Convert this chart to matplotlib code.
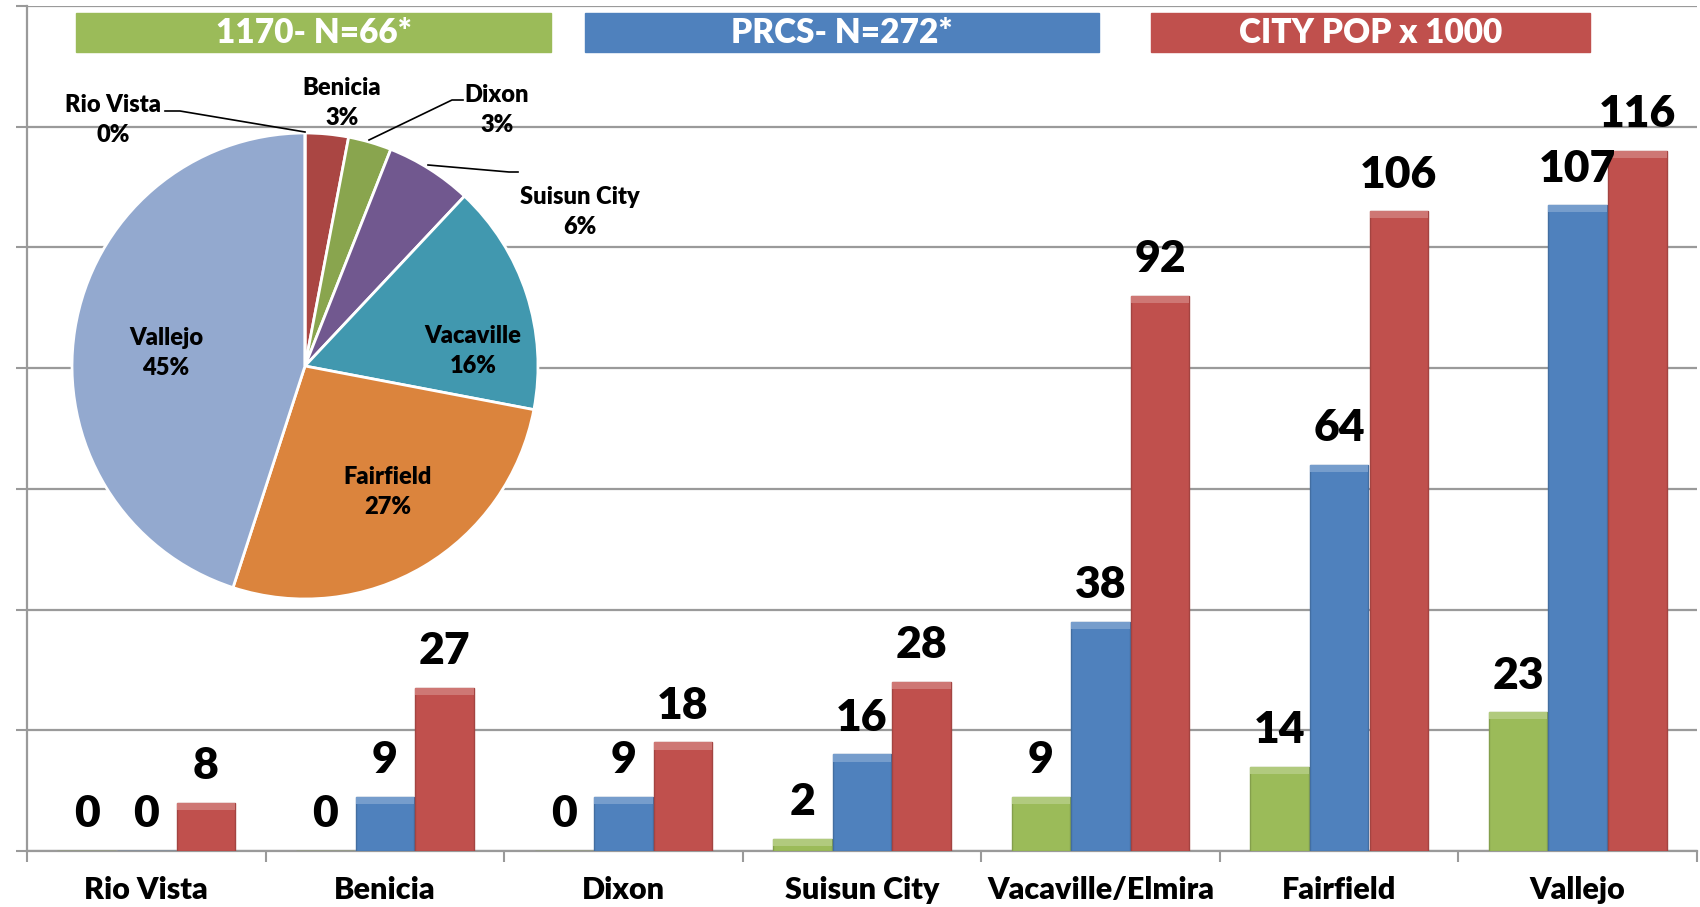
import matplotlib.pyplot as plt
import matplotlib.colors as mcolors
import numpy as np
from matplotlib.patches import Rectangle

# --- data ---
cities = ["Rio Vista", "Benicia", "Dixon", "Suisun City", "Vacaville/Elmira", "Fairfield", "Vallejo"]
n1170 = [0, 0, 0, 2, 9, 14, 23]
prcs = [0, 9, 9, 16, 38, 64, 107]
city_pop = [8, 27, 18, 28, 92, 106, 116]
series_names = ["1170- N=66*", "PRCS- N=272*", "CITY POP x 1000"]

pie_names = ["Benicia", "Dixon", "Suisun City", "Vacaville", "Fairfield", "Vallejo", "Rio Vista"]
pie_pct = [3, 3, 6, 16, 27, 45, 0]

# --- style ---
plt.rcParams["font.family"] = ["Lato", "DejaVu Sans"]
WT = "heavy"

bar_colors = ["#9BBB59", "#4F81BD", "#C0504D"]
pie_colors = ["#AA4643", "#89A54E", "#71588F", "#4198AF", "#DB843D", "#93A9CF", "#BBBBBB"]
grid_col = "#9A9A9A"


def lighten(c, amt):
    r, g, b = mcolors.to_rgb(c)
    return (r + (1 - r) * amt, g + (1 - g) * amt, b + (1 - b) * amt)


def darken(c, amt):
    r, g, b = mcolors.to_rgb(c)
    return (r * (1 - amt), g * (1 - amt), b * (1 - amt))


W, H = 1700, 907
fig = plt.figure(figsize=(W / 100, H / 100), dpi=100)
ax = fig.add_axes([27 / W, 56 / H, 1670 / W, 845 / H])

x = np.arange(len(cities))
bw = 0.25
bevel = 1.2  # data units, thin lighter cap on each bar
for i, (vals, col) in enumerate(zip([n1170, prcs, city_pop], bar_colors)):
    xs = x + (i - 1) * bw
    ax.bar(xs, vals, width=bw * 0.98, color=col, edgecolor=darken(col, 0.15), linewidth=1, zorder=3)
    v = np.array(vals, dtype=float)
    cap = np.minimum(v, bevel)
    ax.bar(xs, cap, bottom=v - cap, width=bw * 0.98, color=lighten(col, 0.22),
           edgecolor="none", zorder=4)
    for xi, vi in zip(xs, vals):
        ax.annotate(str(vi), (xi, vi), xytext=(0, 17), textcoords="offset points",
                    ha="center", va="baseline", fontsize=32, fontweight=WT, zorder=5)

ax.set_xlim(-0.5, len(cities) - 0.5)
ax.set_ylim(0, 140)
ax.set_yticks(np.arange(0, 141, 20))
ax.set_yticklabels([])
ax.grid(axis="y", color=grid_col, linewidth=1.6)
ax.set_axisbelow(True)
ax.set_xticks(x)
ax.set_xticklabels(cities, fontsize=22, fontweight=WT)
ax.set_xticks(np.arange(-0.5, len(cities)), minor=True)
ax.tick_params(axis="x", which="major", length=0, pad=18)
ax.tick_params(axis="x", which="minor", length=8, width=1.5, color=grid_col)
ax.tick_params(axis="y", length=8, width=1.5, color=grid_col)
for s in ["top", "right"]:
    ax.spines[s].set_visible(False)
for s in ["left", "bottom"]:
    ax.spines[s].set_color(grid_col)
    ax.spines[s].set_linewidth(1.6)

# --- legend boxes along the top ---
boxes = [(76, 551), (585, 1099), (1151, 1590)]
for (x0, x1), name, col in zip(boxes, series_names, bar_colors):
    fig.patches.append(Rectangle((x0 / W, 1 - 52 / H), (x1 - x0) / W, 39 / H,
                                 transform=fig.transFigure, color=col, zorder=6))
    fig.text((x0 + x1) / 2 / W, 1 - 33 / H, name, color="white", fontsize=24,
             fontweight=WT, ha="center", va="center", zorder=7)

# --- pie inset ---
cx, cy, r = 305, 366, 233
pax = fig.add_axes([(cx - r) / W, 1 - (cy + r) / H, 2 * r / W, 2 * r / H])
pax.pie(pie_pct, colors=pie_colors, startangle=90, counterclock=False,
        wedgeprops=dict(edgecolor="white", linewidth=2))
pax.set_xlim(-1, 1)
pax.set_ylim(-1, 1)
pax.set_aspect("equal")
pax.axis("off")


def to_pie(px, py):
    return (px - cx) / r, (cy - py) / r


# label positions (pixel centres in the reference)
label_pos = {
    "Benicia": (342, 103), "Dixon": (497, 110), "Suisun City": (580, 212),
    "Vacaville": (473, 351), "Fairfield": (388, 492), "Vallejo": (166, 353),
    "Rio Vista": (113, 120),
}
for name, pct in zip(pie_names, pie_pct):
    px, py = label_pos[name]
    tx, ty = to_pie(px, py)
    pax.text(tx, ty, f"{name}\n{pct}%", ha="center", va="center", fontsize=17,
             fontweight=WT, linespacing=1.45, clip_on=False)

# leader lines
leaders = [
    [(165, 111), (180, 111), (305, 132)],
    [(463, 100), (452, 100), (369, 140)],
    [(518, 172), (509, 172), (428, 165)],
]
for pts in leaders:
    xy = np.array([to_pie(*p) for p in pts])
    pax.plot(xy[:, 0], xy[:, 1], color="black", linewidth=1.2, clip_on=False)

fig.savefig("out.png", dpi=100)
